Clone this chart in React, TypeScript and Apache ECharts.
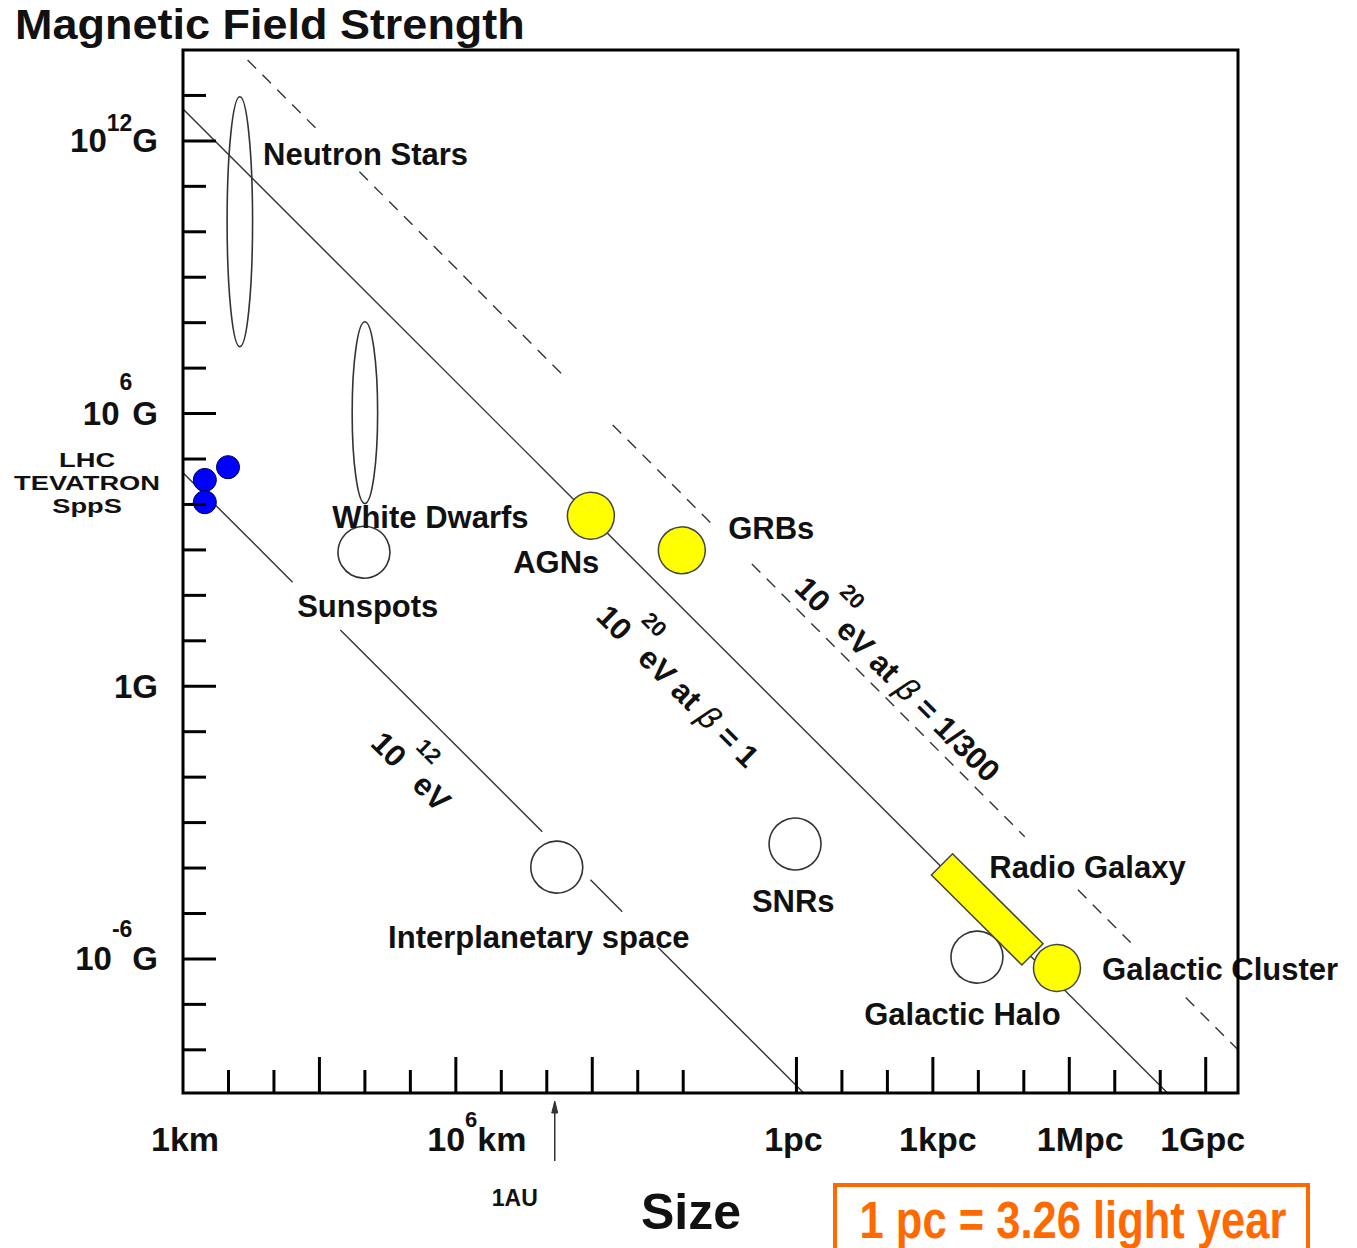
import React, { useEffect, useRef } from "react";
import * as echarts from "echarts";

// All coordinates are decimal exponents: x = log10(size / km), y = log10(B / gauss)
const xRange = [0, 23.2];
const yRange = [-8.95, 14.0];

const AU_LOG_KM = 8.175; // 1 AU = 1.496e8 km

const xMinorTicks = [1, 2, 4, 5, 7, 8, 10, 11, 14.49, 15.49, 17.49, 18.49, 20.49, 21.49];
const xMajorTicks = [3, 6, 9, 13.49, 16.49, 19.49, 22.49];
const yMinorTicks = [-8, -7, -5, -4, -3, -2, -1, 1, 2, 3, 4, 5, 7, 8, 9, 10, 11, 13];
const yMajorTicks = [-6, 0, 6, 12];

const xTickLabels = [
  { at: 0, base: "1km" },
  { at: 6, base: "10", sup: "6", unit: "km" },
  { at: 13.49, base: "1pc" },
  { at: 16.49, base: "1kpc" },
  { at: 19.49, base: "1Mpc" },
  { at: 22.49, base: "1Gpc" },
];
const yTickLabels = [
  { at: 12, base: "10", sup: "12", unit: "G" },
  { at: 6, base: "10", sup: "6", unit: "G" },
  { at: 0, base: "1", unit: "G" },
  { at: -6, base: "10", sup: "-6", unit: "G" },
];

// Hillas limits (log L + log B = const), as visible segments
const beta1Line = [[[0, 12.7], [21.65, -8.95]]];
const tev12Segments = [
  [[0, 4.7], [2.41, 2.29]],
  [[3.46, 1.24], [7.9, -3.2]],
  [[8.96, -4.26], [9.66, -4.96]],
  [[10.45, -5.75], [13.65, -8.95]],
];
const beta300Segments = [
  [[1.42, 13.78], [3.0, 12.2]],
  [[3.88, 11.32], [8.39, 6.81]],
  [[9.45, 5.75], [11.72, 3.48]],
  [[12.51, 2.69], [18.51, -3.31]],
  [[19.68, -4.48], [20.84, -5.64]],
  [[22.05, -6.85], [23.2, -8.0]],
];

// [centerX, centerY, halfWidth, halfHeight]
const ellipseObjects = [
  { name: "Neutron Stars", value: [1.25, 10.22, 0.28, 2.75] },
  { name: "White Dwarfs", value: [4.0, 6.02, 0.28, 2.0] },
];
const openCircles = [
  { name: "Sunspots", value: [3.98, 2.95] },
  { name: "Interplanetary space", value: [8.22, -3.98] },
  { name: "SNRs", value: [13.46, -3.47] },
  { name: "Galactic Halo", value: [17.46, -5.96] },
];
const yellowCircles = [
  { name: "AGNs", value: [8.97, 3.75] },
  { name: "GRBs", value: [10.97, 2.99] },
  { name: "Galactic Cluster", value: [19.22, -6.2] },
];
const colliders = [
  { name: "LHC", value: [0.99, 4.82] },
  { name: "TEVATRON", value: [0.48, 4.54] },
  { name: "SppS", value: [0.48, 4.05] },
];
const radioGalaxy = [[16.69, -3.92], [18.68, -5.9]];

const objectLabels = [
  { text: "Neutron Stars", at: [1.76, 11.71] },
  { text: "White Dwarfs", at: [3.28, 3.72] },
  { text: "AGNs", at: [7.26, 2.73] },
  { text: "GRBs", at: [11.99, 3.48] },
  { text: "Sunspots", at: [2.51, 1.75] },
  { text: "SNRs", at: [12.51, -4.74] },
  { text: "Interplanetary space", at: [4.51, -5.52] },
  { text: "Radio Galaxy", at: [17.73, -3.99] },
  { text: "Galactic Cluster", at: [20.21, -6.24] },
  { text: "Galactic Halo", at: [14.98, -7.23] },
];
const colliderNames = ["LHC", "TEVATRON", "SppS"];
const colliderLabelAt = [-2.11, 4.48];

type Seg = { t: string; sup?: boolean; it?: boolean };
const limitLabels: { segs: Seg[]; at: number[] }[] = [
  { segs: [{ t: "10" }, { t: "12", sup: true }, { t: "eV" }], at: [5.01, -1.88] },
  {
    segs: [{ t: "10" }, { t: "20", sup: true }, { t: "eV at " }, { t: "\u03b2", it: true }, { t: " = 1" }],
    at: [10.88, 0.0],
  },
  {
    segs: [{ t: "10" }, { t: "20", sup: true }, { t: "eV at " }, { t: "\u03b2", it: true }, { t: " = 1/300" }],
    at: [15.71, 0.15],
  },
];

// ---- styles ----
const FONT = '"Liberation Sans", Arial, Helvetica, sans-serif';
const INK = "#111";
const LINE = "#333";
const xLabelNudge = [2, 21, -3, 5, 11, -3];
const ySupDy = [-18, -32, 0, -30];

let measureCtx: CanvasRenderingContext2D | null = null;
function textWidth(t: string, font: string) {
  if (!measureCtx) measureCtx = document.createElement("canvas").getContext("2d");
  measureCtx!.font = font;
  return measureCtx!.measureText(t).width;
}

interface RichOpts {
  size: number;
  supSize: number;
  supDy: number;
  weight?: string;
  align: "left" | "center" | "right";
  color?: string;
}
function richRow(segs: Seg[], o: RichOpts) {
  const fam = (s: Seg) => (s.it ? '"DejaVu Sans", sans-serif' : FONT);
  const weight = (s: Seg) => (s.it ? "normal" : o.weight || "bold");
  const size = (s: Seg) => (s.sup ? o.supSize : o.size);
  const fontOf = (s: Seg) => `${s.it ? "italic" : "normal"} ${weight(s)} ${size(s)}px ${fam(s)}`;
  const widths = segs.map((s) => textWidth(s.t, fontOf(s)));
  const total = widths.reduce((a, b) => a + b, 0);
  let cx = o.align === "left" ? 0 : o.align === "center" ? -total / 2 : -total;
  return segs.map((s, i) => {
    const el = {
      type: "text",
      x: cx,
      y: s.sup ? o.supDy : 0,
      style: {
        text: s.t,
        fontSize: size(s),
        fontWeight: weight(s),
        fontStyle: s.it ? "italic" : "normal",
        fontFamily: fam(s),
        fill: o.color || INK,
        align: "left",
        verticalAlign: "middle",
      },
    };
    cx += widths[i];
    return el;
  });
}

function textSeries(
  anchors: number[][],
  build: (i: number) => { children: any[]; dx?: number; dy?: number; rotation?: number }
) {
  return {
    type: "custom",
    coordinateSystem: "cartesian2d",
    silent: true,
    clip: false,
    z: 7,
    data: anchors,
    renderItem: (params: any, api: any) => {
      const p = api.coord([api.value(0), api.value(1)]);
      const b = build(params.dataIndex);
      return {
        type: "group",
        x: p[0] + (b.dx || 0),
        y: p[1] + (b.dy || 0),
        rotation: b.rotation || 0,
        children: b.children,
      };
    },
  };
}

function segsOf(l: { base: string; sup?: string; unit?: string }): Seg[] {
  const s: Seg[] = [{ t: l.base }];
  if (l.sup) s.push({ t: l.sup, sup: true });
  if (l.unit) s.push({ t: l.unit });
  return s;
}

function buildOption() {
  const lineSeries = (segs: number[][][], dashed: boolean) => ({
    type: "lines",
    coordinateSystem: "cartesian2d",
    polyline: false,
    silent: true,
    z: 2,
    data: segs.map((c) => ({ coords: c })),
    lineStyle: { color: LINE, width: 1.4, opacity: 1, type: dashed ? [12, 9] : "solid" },
  });

  const titleW = textWidth("Magnetic Field Strength", `normal bold 43px ${FONT}`);
  const noteW = textWidth("1 pc = 3.26 light year", `normal bold 52px ${FONT}`);
  const colliderW = textWidth("TEVATRON", `normal bold 20px ${FONT}`);

  return {
    animation: false,
    backgroundColor: "#fff",
    grid: {
      left: 183,
      top: 50,
      width: 1055,
      height: 1043,
      show: true,
      borderColor: "#000",
      borderWidth: 3,
      backgroundColor: "rgba(0,0,0,0)",
      z: 9,
    },
    xAxis: { type: "value", min: xRange[0], max: xRange[1], show: false },
    yAxis: { type: "value", min: yRange[0], max: yRange[1], show: false },
    graphic: [
      {
        type: "text",
        x: 15,
        y: 24,
        scaleX: 510 / titleW,
        style: {
          text: "Magnetic Field Strength",
          fontSize: 43,
          fontWeight: "bold",
          fontFamily: FONT,
          fill: INK,
          align: "left",
          verticalAlign: "middle",
        },
      },
      {
        type: "text",
        x: 691,
        y: 1212,
        style: {
          text: "Size",
          fontSize: 50,
          fontWeight: "bold",
          fontFamily: FONT,
          fill: INK,
          align: "center",
          verticalAlign: "middle",
        },
      },
      {
        type: "rect",
        shape: { x: 835, y: 1185, width: 473, height: 100 },
        style: { fill: "none", stroke: "#ff6a00", lineWidth: 4 },
      },
      {
        type: "text",
        x: 1073,
        y: 1220,
        scaleX: 427 / noteW,
        style: {
          text: "1 pc = 3.26 light year",
          fontSize: 52,
          fontWeight: "bold",
          fontFamily: FONT,
          fill: "#ff6a00",
          align: "center",
          verticalAlign: "middle",
        },
      },
    ],
    series: [
      lineSeries(beta1Line, false),
      lineSeries(tev12Segments, false),
      lineSeries(beta300Segments, true),
      {
        type: "custom",
        name: "ellipses",
        coordinateSystem: "cartesian2d",
        silent: true,
        z: 3,
        data: ellipseObjects,
        renderItem: (params: any, api: any) => {
          const c = api.coord([api.value(0), api.value(1)]);
          const s = api.size([api.value(2), api.value(3)]);
          return {
            type: "ellipse",
            shape: { cx: c[0], cy: c[1], rx: s[0], ry: s[1] },
            style: { fill: "none", stroke: LINE, lineWidth: 1.6 },
          };
        },
      },
      {
        type: "scatter",
        name: "open",
        silent: true,
        z: 4,
        symbol: "circle",
        symbolSize: 52,
        data: openCircles,
        itemStyle: { color: "#fff", borderColor: LINE, borderWidth: 1.6, opacity: 1 },
      },
      {
        type: "custom",
        name: "Radio Galaxy",
        coordinateSystem: "cartesian2d",
        silent: true,
        z: 5,
        data: [radioGalaxy[0].concat(radioGalaxy[1])],
        renderItem: (params: any, api: any) => {
          const a = api.coord([api.value(0), api.value(1)]);
          const b = api.coord([api.value(2), api.value(3)]);
          const dx = b[0] - a[0];
          const dy = b[1] - a[1];
          const len = Math.hypot(dx, dy) || 1;
          const hw = 15;
          const nx = (-dy / len) * hw;
          const ny = (dx / len) * hw;
          return {
            type: "polygon",
            shape: {
              points: [
                [a[0] + nx, a[1] + ny],
                [b[0] + nx, b[1] + ny],
                [b[0] - nx, b[1] - ny],
                [a[0] - nx, a[1] - ny],
              ],
            },
            style: { fill: "#ffff00", stroke: "#444", lineWidth: 1.5 },
          };
        },
      },
      {
        type: "scatter",
        name: "yellow",
        silent: true,
        z: 6,
        symbol: "circle",
        symbolSize: 47,
        data: yellowCircles,
        itemStyle: { color: "#ffff00", borderColor: "#444", borderWidth: 1.5, opacity: 1 },
      },
      {
        type: "scatter",
        name: "colliders",
        silent: true,
        z: 6,
        symbol: "circle",
        symbolSize: 23,
        data: colliders,
        itemStyle: { color: "#0000ff", borderColor: "#000055", borderWidth: 1, opacity: 1 },
      },
      // ticks
      {
        type: "custom",
        silent: true,
        clip: false,
        z: 8,
        data: [...xMinorTicks.map((v) => [v, 0]), ...xMajorTicks.map((v) => [v, 1])],
        renderItem: (params: any, api: any) => {
          const p = api.coord([api.value(0), yRange[0]]);
          const len = api.value(1) ? 36 : 23;
          return {
            type: "line",
            shape: { x1: p[0], y1: p[1], x2: p[0], y2: p[1] - len },
            style: { stroke: "#000", lineWidth: 3 },
          };
        },
      },
      {
        type: "custom",
        silent: true,
        clip: false,
        z: 8,
        data: [...yMinorTicks.map((v) => [0, v]), ...yMajorTicks.map((v) => [1, v])],
        renderItem: (params: any, api: any) => {
          const p = api.coord([xRange[0], api.value(1)]);
          const len = api.value(0) ? 33 : 23;
          return {
            type: "line",
            shape: { x1: p[0], y1: p[1], x2: p[0] + len, y2: p[1] },
            style: { stroke: "#000", lineWidth: 3 },
          };
        },
      },
      // tick labels
      textSeries(
        xTickLabels.map((l) => [l.at, yRange[0]]),
        (i) => ({
          dx: xLabelNudge[i],
          dy: 46,
          children: richRow(segsOf(xTickLabels[i]), { size: 34, supSize: 22, supDy: -20, align: "center" }),
        })
      ),
      textSeries(
        yTickLabels.map((l) => [xRange[0], l.at]),
        (i) => ({
          dx: -25,
          dy: 0,
          children: richRow(segsOf(yTickLabels[i]), {
            size: 33,
            supSize: 23,
            supDy: ySupDy[i],
            align: "right",
          }),
        })
      ),
      // 1 AU marker
      {
        type: "custom",
        silent: true,
        clip: false,
        z: 7,
        data: [[AU_LOG_KM, yRange[0]]],
        renderItem: (params: any, api: any) => {
          const p = api.coord([api.value(0), api.value(1)]);
          return {
            type: "group",
            x: p[0],
            y: p[1],
            children: [
              { type: "line", shape: { x1: 0, y1: 68, x2: 0, y2: 10 }, style: { stroke: LINE, lineWidth: 1.5 } },
              {
                type: "polygon",
                shape: { points: [[-3, 20], [0, 8], [3, 20]] },
                style: { fill: LINE, stroke: LINE, lineWidth: 1 },
              },
              {
                type: "text",
                x: -40,
                y: 105,
                style: {
                  text: "1AU",
                  fontSize: 23,
                  fontWeight: "bold",
                  fontFamily: FONT,
                  fill: INK,
                  align: "center",
                  verticalAlign: "middle",
                },
              },
            ],
          };
        },
      },
      // object labels
      textSeries(
        objectLabels.map((l) => l.at),
        (i) => ({
          children: richRow([{ t: objectLabels[i].text }], { size: 31, supSize: 20, supDy: 0, align: "left" }),
        })
      ),
      textSeries([colliderLabelAt], () => ({
        children: [
          {
            type: "text",
            x: 0,
            y: 0,
            scaleX: 146 / colliderW,
            style: {
              text: colliderNames.join("\n"),
              fontSize: 20,
              lineHeight: 23,
              fontWeight: "bold",
              fontFamily: FONT,
              fill: INK,
              align: "center",
              verticalAlign: "middle",
            },
          },
        ],
      })),
      textSeries(
        limitLabels.map((l) => l.at),
        (i) => ({
          rotation: -Math.PI / 4,
          children: richRow(limitLabels[i].segs, { size: 31, supSize: 22, supDy: -27, align: "center" }),
        })
      ),
    ],
  };
}

export default function App() {
  const ref = useRef<HTMLDivElement>(null);
  useEffect(() => {
    document.body.style.margin = "0";
    if (!ref.current) return;
    const chart = echarts.init(ref.current, null, { renderer: "svg" });
    chart.setOption(buildOption() as any);
    return () => chart.dispose();
  }, []);
  return (
    <div
      ref={ref}
      style={{ position: "absolute", left: 0, top: 0, width: 1357, height: 1248, background: "#fff" }}
    />
  );
}
